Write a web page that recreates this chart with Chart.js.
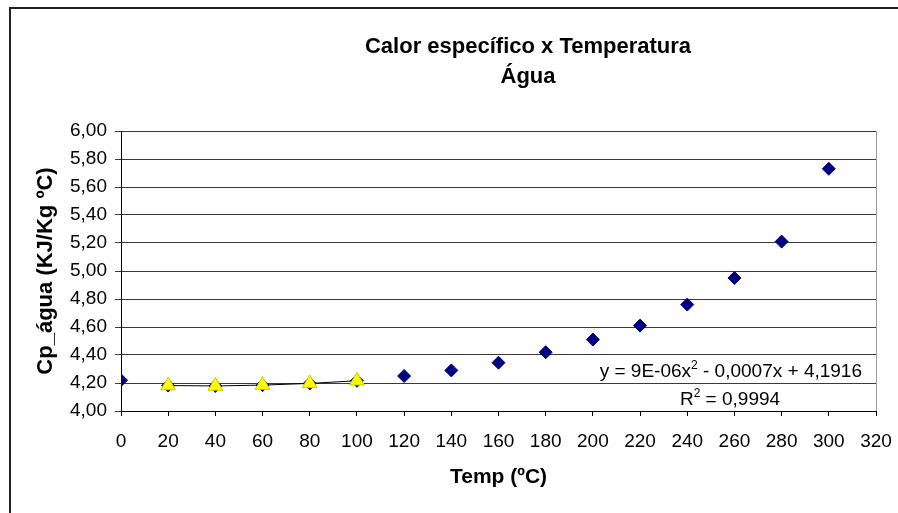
<!DOCTYPE html>
<html>
<head>
<meta charset="utf-8">
<script src="https://cdn.jsdelivr.net/npm/chart.js@4"></script>
<style>
    html, body { margin: 0; padding: 0; background: #fff; }
    #wrap { width: 898px; height: 513px; position: relative; }
</style>
</head>
<body>
<div id="wrap"><canvas id="cpChart" width="898" height="513"></canvas></div>
<script>
// dados
const temperaturas = [0, 20, 40, 60, 80, 100, 120, 140, 160, 180, 200, 220, 240, 260, 280, 300];
const cpAgua = [4.22, 4.182, 4.179, 4.185, 4.197, 4.216, 4.25, 4.29, 4.345, 4.42, 4.51, 4.61, 4.76, 4.95, 5.21, 5.73];
const temperaturasLinha = [20, 40, 60, 80, 100];
const cpLinha = [4.182, 4.179, 4.185, 4.197, 4.216];
const yTicks = [4.0, 4.2, 4.4, 4.6, 4.8, 5.0, 5.2, 5.4, 5.6, 5.8, 6.0];
const xTicks = [0, 20, 40, 60, 80, 100, 120, 140, 160, 180, 200, 220, 240, 260, 280, 300, 320];
const titulo = ['Calor específico x Temperatura', 'Água'];
const tituloX = 'Temp (ºC)';
const tituloY = 'Cp_água (KJ/Kg ºC)';
const equacao = ['y = 9E-06x', '2', ' - 0,0007x + 4,1916'];
const rQuadrado = ['R', '2', ' = 0,9994'];

document.addEventListener('DOMContentLoaded', () => {
    const FONT = "'Liberation Sans', Arial, sans-serif";
    Chart.defaults.color = '#000';
    Chart.defaults.font.family = FONT;

    function fmt(v) {
        return v.toFixed(2).replace('.', ',');
    }

    // texto com expoente, alinhado pelo centro ou pela direita
    function drawSup(ctx, parts, x, y, align) {
        ctx.font = '19px ' + FONT;
        const w0 = ctx.measureText(parts[0]).width;
        const w2 = ctx.measureText(parts[2]).width;
        ctx.font = '12px ' + FONT;
        const w1 = ctx.measureText(parts[1]).width;
        const total = w0 + w1 + w2;
        let start = align === 'right' ? x - total : x - total / 2;
        ctx.textAlign = 'left';
        ctx.textBaseline = 'alphabetic';
        ctx.font = '19px ' + FONT;
        ctx.fillText(parts[0], start, y);
        ctx.font = '12px ' + FONT;
        ctx.fillText(parts[1], start + w0, y - 8);
        ctx.font = '19px ' + FONT;
        ctx.fillText(parts[2], start + w0 + w1, y);
    }

    const decor = {
        id: 'decor',
        beforeDatasetsDraw(chart) {
            const { ctx, chartArea } = chart;
            ctx.save();
            ctx.strokeStyle = '#9a9a9a';
            ctx.lineWidth = 1;
            ctx.beginPath();
            ctx.moveTo(Math.round(chartArea.right) + 0.5, chartArea.top);
            ctx.lineTo(Math.round(chartArea.right) + 0.5, chartArea.bottom);
            ctx.stroke();
            ctx.restore();
        },
        afterDraw(chart) {
            const { ctx, chartArea } = chart;
            ctx.save();
            // moldura externa
            ctx.strokeStyle = '#222';
            ctx.lineWidth = 2;
            ctx.beginPath();
            ctx.moveTo(10, 513);
            ctx.lineTo(10, 8);
            ctx.lineTo(898, 8);
            ctx.stroke();

            ctx.fillStyle = '#000';
            ctx.textAlign = 'center';
            ctx.textBaseline = 'alphabetic';
            ctx.font = 'bold 22px ' + FONT;
            ctx.fillText(titulo[0], 528, 53);
            ctx.fillText(titulo[1], 528, 83);

            ctx.font = 'bold 21px ' + FONT;
            ctx.fillText(tituloX, (chartArea.left + chartArea.right) / 2, 483);

            ctx.save();
            ctx.translate(52, (chartArea.top + chartArea.bottom) / 2);
            ctx.rotate(-Math.PI / 2);
            ctx.font = 'bold 22px ' + FONT;
            ctx.fillText(tituloY, 0, 0);
            ctx.restore();

            drawSup(ctx, equacao, 862, 377, 'right');
            drawSup(ctx, rQuadrado, 730, 405, 'center');
            ctx.restore();
        }
    };

    const ctx = document.getElementById('cpChart').getContext('2d');
    new Chart(ctx, {
        type: 'scatter',
        data: {
            datasets: [
                {
                    label: 'linha',
                    data: temperaturasLinha.map((t, i) => ({ x: t, y: cpLinha[i] })),
                    showLine: true,
                    borderColor: '#000',
                    borderWidth: 1,
                    pointStyle: 'triangle',
                    pointRadius: 8.5,
                    pointBackgroundColor: '#ffff00',
                    pointBorderColor: '#c8c800',
                    pointBorderWidth: 1
                },
                {
                    label: 'Cp',
                    data: temperaturas.map((t, i) => ({ x: t, y: cpAgua[i] })),
                    showLine: false,
                    pointStyle: 'rectRot',
                    pointRadius: 6.5,
                    pointBackgroundColor: '#000080',
                    pointBorderColor: '#000080',
                    pointBorderWidth: 1
                }
            ]
        },
        options: {
            responsive: false,
            animation: false,
            layout: { padding: { left: 0, top: 131, right: 22, bottom: 0 } },
            plugins: {
                legend: { display: false },
                title: { display: false },
                tooltip: { enabled: false }
            },
            scales: {
                x: {
                    type: 'linear',
                    min: 0,
                    max: 320,
                    afterFit: s => { s.height = 102; s.paddingLeft = 0; s.paddingRight = 0; },
                    afterBuildTicks: s => { s.ticks = xTicks.map(v => ({ value: v })); },
                    ticks: { font: { size: 19 }, padding: 14, maxRotation: 0, autoSkip: false },
                    grid: { drawOnChartArea: false, drawTicks: true, tickLength: 5, color: '#000' },
                    border: { display: true, color: '#000', width: 1 }
                },
                y: {
                    type: 'linear',
                    min: 4,
                    max: 6,
                    afterFit: s => { s.width = 121; s.paddingTop = 0; s.paddingBottom = 0; },
                    afterBuildTicks: s => { s.ticks = yTicks.map(v => ({ value: v })); },
                    ticks: { font: { size: 19 }, padding: 8, callback: v => fmt(v), autoSkip: false },
                    grid: { color: '#3a3a3a', lineWidth: 1, tickLength: 6 },
                    border: { display: true, color: '#000', width: 1 }
                }
            }
        },
        plugins: [decor]
    });
});
</script>
</body>
</html>
